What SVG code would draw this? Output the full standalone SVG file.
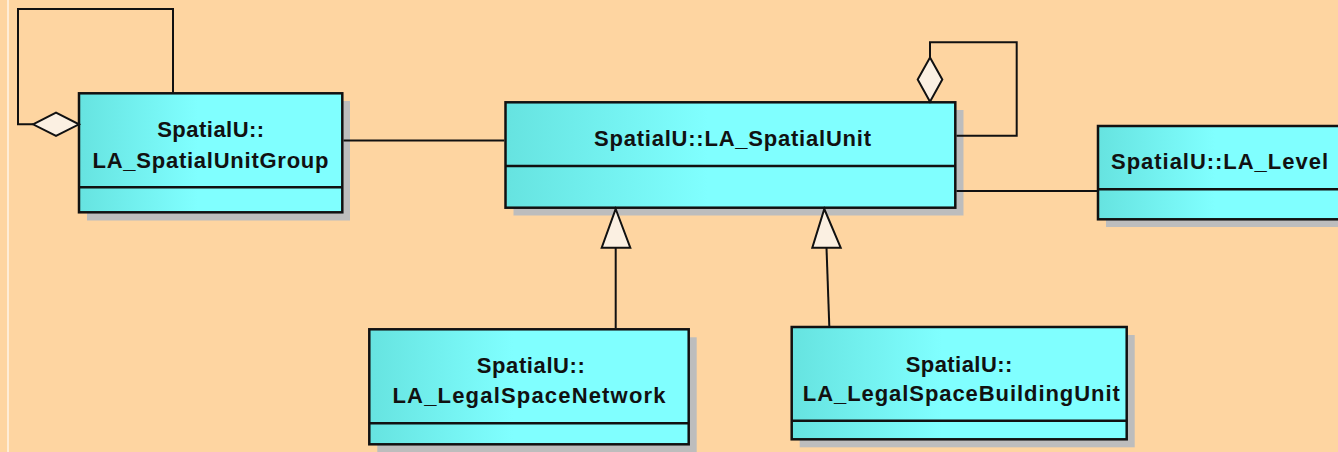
<svg xmlns="http://www.w3.org/2000/svg" width="1338" height="452" viewBox="0 0 1338 452">
<defs>
<linearGradient id="cls" x1="0" y1="0" x2="1" y2="0">
<stop offset="0" stop-color="#66E3E0"/>
<stop offset="0.45" stop-color="#80FFFF"/>
<stop offset="1" stop-color="#80FFFF"/>
</linearGradient>
<style>
.shadow{fill:#BDBDBD}
.box{fill:url(#cls);stroke:#111;stroke-width:2.5}
.div{stroke:#111;stroke-width:2.5;fill:none}
.t{font-family:"Liberation Sans",Arial,sans-serif;font-weight:bold;font-size:22px;fill:#111;text-anchor:middle}
.t0{font-family:"Liberation Sans",Arial,sans-serif;font-weight:bold;font-size:22px;fill:#111}
.ln{stroke:#111;stroke-width:2;fill:none}
.head{fill:#FBF0E2;stroke:#111;stroke-width:2;stroke-linejoin:miter}
</style>
</defs>
<rect x="0" y="0" width="1338" height="452" fill="#FED5A1"/>
<line x1="8" y1="0" x2="8" y2="452" stroke="#FFF4E8" stroke-width="1.5"/>

<g id="LA_SpatialUnitGroup">
<rect class="shadow" x="87" y="101" width="263" height="119.5"/>
<rect class="box" x="79" y="93.3" width="263.3" height="119"/>
<line class="div" x1="79" y1="187.3" x2="342.3" y2="187.3"/>
<text class="t" x="210.7" y="136.7" textLength="107" lengthAdjust="spacing">SpatialU::</text>
<text class="t" x="210.5" y="167.7" textLength="236" lengthAdjust="spacing">LA_SpatialUnitGroup</text>
</g>

<g id="LA_SpatialUnit">
<rect class="shadow" x="513.5" y="110" width="450" height="105.5"/>
<rect class="box" x="505.5" y="102.3" width="449.8" height="105.4"/>
<line class="div" x1="505.5" y1="166" x2="955.3" y2="166"/>
<text class="t" x="732.5" y="146" textLength="277" lengthAdjust="spacing">SpatialU::LA_SpatialUnit</text>
</g>

<g id="LA_Level">
<rect class="shadow" x="1106" y="134" width="250" height="93"/>
<rect class="box" x="1098" y="126" width="260" height="93.3"/>
<line class="div" x1="1098" y1="189.3" x2="1338" y2="189.3"/>
<text class="t0" x="1111" y="169.3" textLength="217" lengthAdjust="spacing">SpatialU::LA_Level</text>
</g>

<g id="LA_LegalSpaceNetwork">
<rect class="shadow" x="377.3" y="337.3" width="319.4" height="115"/>
<rect class="box" x="369.3" y="329.3" width="319.4" height="115"/>
<line class="div" x1="369.3" y1="423.3" x2="688.7" y2="423.3"/>
<text class="t" x="530.8" y="372.7" textLength="108" lengthAdjust="spacing">SpatialU::</text>
<text class="t" x="529" y="403.3" textLength="273" lengthAdjust="spacing">LA_LegalSpaceNetwork</text>
</g>

<g id="LA_LegalSpaceBuildingUnit">
<rect class="shadow" x="799.7" y="335" width="335" height="112.3"/>
<rect class="box" x="791.7" y="327" width="335" height="112.3"/>
<line class="div" x1="791.7" y1="420.7" x2="1126.7" y2="420.7"/>
<text class="t" x="959" y="371.7" textLength="106.7" lengthAdjust="spacing">SpatialU::</text>
<text class="t" x="961.3" y="401" textLength="317" lengthAdjust="spacing">LA_LegalSpaceBuildingUnit</text>
</g>

<g id="connectors">
<polyline class="ln" points="173,92.5 173,9 18,9 18,124.3 33,124.3"/>
<polygon class="head" points="33,124.3 56,112.5 79,124.3 56,136"/>
<line class="ln" x1="343.5" y1="140.5" x2="504.3" y2="140.5"/>
<polyline class="ln" points="956.5,135.7 1016.7,135.7 1016.7,42.3 930,42.3 930,57.5"/>
<polygon class="head" points="930,57.5 942.3,79.5 930,101.7 917.7,79.5"/>
<line class="ln" x1="956.5" y1="191" x2="1097" y2="191"/>
<line class="ln" x1="615.7" y1="328" x2="615.7" y2="247.7"/>
<polygon class="head" points="615.7,209 630.3,247.7 601.7,247.7"/>
<line class="ln" x1="829.3" y1="326" x2="826.5" y2="247.7"/>
<polygon class="head" points="824.3,209 840.7,247.7 812.3,247.7"/>
</g>
</svg>
